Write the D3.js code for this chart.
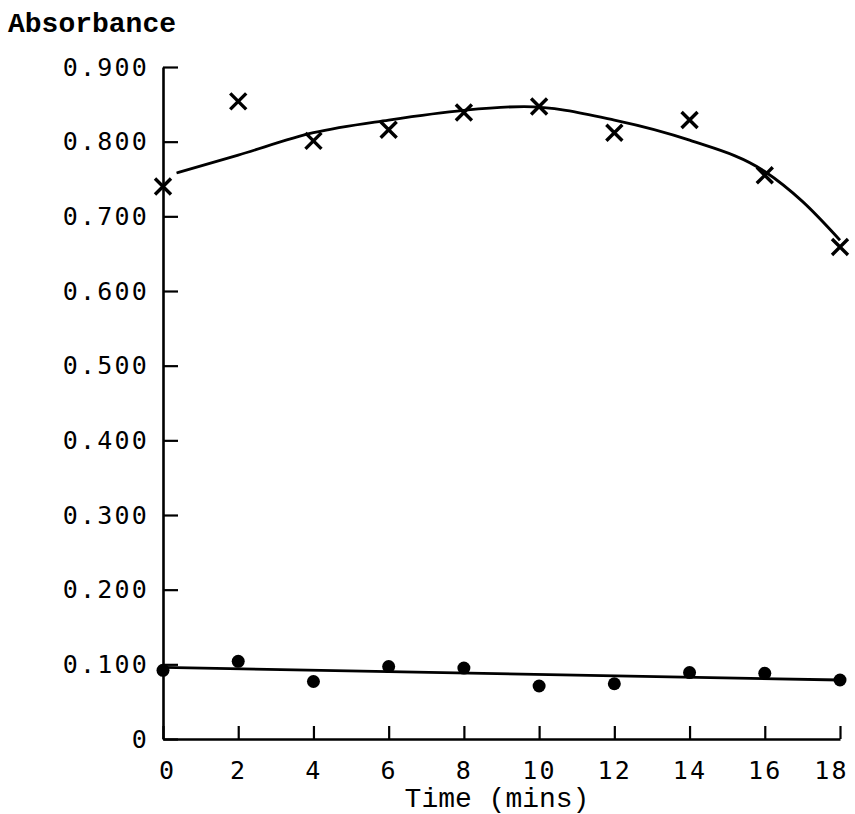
<!DOCTYPE html>
<html>
<head>
<meta charset="utf-8">
<script src="https://cdn.jsdelivr.net/npm/d3@7"></script>
<style>
  body { margin: 0; background: #fff; }
  svg { display: block; }
</style>
</head>
<body>
<div id="chart"></div>
<script>
// readings
var times = [0, 2, 4, 6, 8, 10, 12, 14, 16, 18];
var crossVals = [0.740, 0.854, 0.801, 0.816, 0.839, 0.847, 0.812, 0.829, 0.755, 0.659];
var dotVals = [0.092, 0.104, 0.077, 0.097, 0.095, 0.071, 0.074, 0.089, 0.088, 0.079];

// hand drawn fits
var crossFitT = [0.36, 2, 4, 6, 8, 9.6, 12, 14, 16, 17, 18];
var crossFitV = [0.758, 0.782, 0.812, 0.829, 0.842, 0.847, 0.829, 0.802, 0.760, 0.720, 0.668];
var dotFitT = [0, 18];
var dotFitV = [0.096, 0.079];

var yTicks = [0, 0.1, 0.2, 0.3, 0.4, 0.5, 0.6, 0.7, 0.8, 0.9];
var xTicks = [0, 2, 4, 6, 8, 10, 12, 14, 16, 18];

var W = 855, H = 814;
var svg = d3.select("#chart").append("svg")
    .attr("width", W)
    .attr("height", H);

var x = d3.scaleLinear().domain([0, 18]).range([163, 840]);
var y = d3.scaleLinear().domain([0, 0.9]).range([739, 67]);

var numFont = "'DejaVu Sans Mono', monospace";
var typeFont = "'Liberation Mono', 'Courier New', monospace";

// y axis, ticks point inward
var yAxis = svg.append("g")
    .attr("transform", "translate(" + x(0) + ",0)")
    .call(d3.axisLeft(y)
        .tickValues(yTicks)
        .tickSizeInner(-15)
        .tickSizeOuter(0)
        .tickPadding(14)
        .tickFormat(function (d) { return d === 0 ? "0" : d3.format(".3f")(d); }));

var xAxis = svg.append("g")
    .attr("transform", "translate(0," + y(0) + ")")
    .call(d3.axisBottom(x)
        .tickValues(xTicks)
        .tickSizeInner(-13)
        .tickSizeOuter(0)
        .tickPadding(22)
        .tickFormat(d3.format("d")));

[yAxis, xAxis].forEach(function (g) {
    g.select(".domain").attr("stroke", "#000").attr("stroke-width", 2.6);
    g.selectAll(".tick line").attr("stroke", "#000").attr("stroke-width", 2.2);
    g.selectAll(".tick text")
        .attr("fill", "#000")
        .style("font-family", numFont)
        .style("font-size", "25px")
        .style("letter-spacing", "2.2px");
});
// first label sits a bit right of its tick, last one a bit left
xAxis.selectAll(".tick text")
    .attr("dx", function (d) { return d === 0 ? 4 : (d === 18 ? -9 : 0); });

// axis titles
svg.append("text")
    .attr("x", 8)
    .attr("y", 32)
    .style("font-family", typeFont)
    .style("font-weight", "bold")
    .style("font-size", "28px")
    .text("Absorbance");

svg.append("text")
    .attr("x", 497)
    .attr("y", 807)
    .attr("text-anchor", "middle")
    .style("font-family", typeFont)
    .style("font-size", "28px")
    .text("Time (mins)");

// fitted lines
var line = d3.line()
    .x(function (d) { return x(d[0]); })
    .y(function (d) { return y(d[1]); })
    .curve(d3.curveMonotoneX);

svg.append("path")
    .datum(d3.zip(crossFitT, crossFitV))
    .attr("d", line)
    .attr("fill", "none")
    .attr("stroke", "#000")
    .attr("stroke-width", 2.8);

svg.append("path")
    .datum(d3.zip(dotFitT, dotFitV))
    .attr("d", line)
    .attr("fill", "none")
    .attr("stroke", "#000")
    .attr("stroke-width", 2.8);

// crosses
svg.selectAll(".cross")
    .data(d3.zip(times, crossVals))
    .enter().append("path")
    .attr("class", "cross")
    .attr("transform", function (d) { return "translate(" + x(d[0]) + "," + y(d[1]) + ")"; })
    .attr("d", "M-8,-8L8,8M8,-8L-8,8")
    .attr("stroke", "#000")
    .attr("stroke-width", 3.4);

// dots
svg.selectAll(".dot")
    .data(d3.zip(times, dotVals))
    .enter().append("circle")
    .attr("class", "dot")
    .attr("cx", function (d) { return x(d[0]); })
    .attr("cy", function (d) { return y(d[1]); })
    .attr("r", 6.5)
    .attr("fill", "#000");
</script>
</body>
</html>
